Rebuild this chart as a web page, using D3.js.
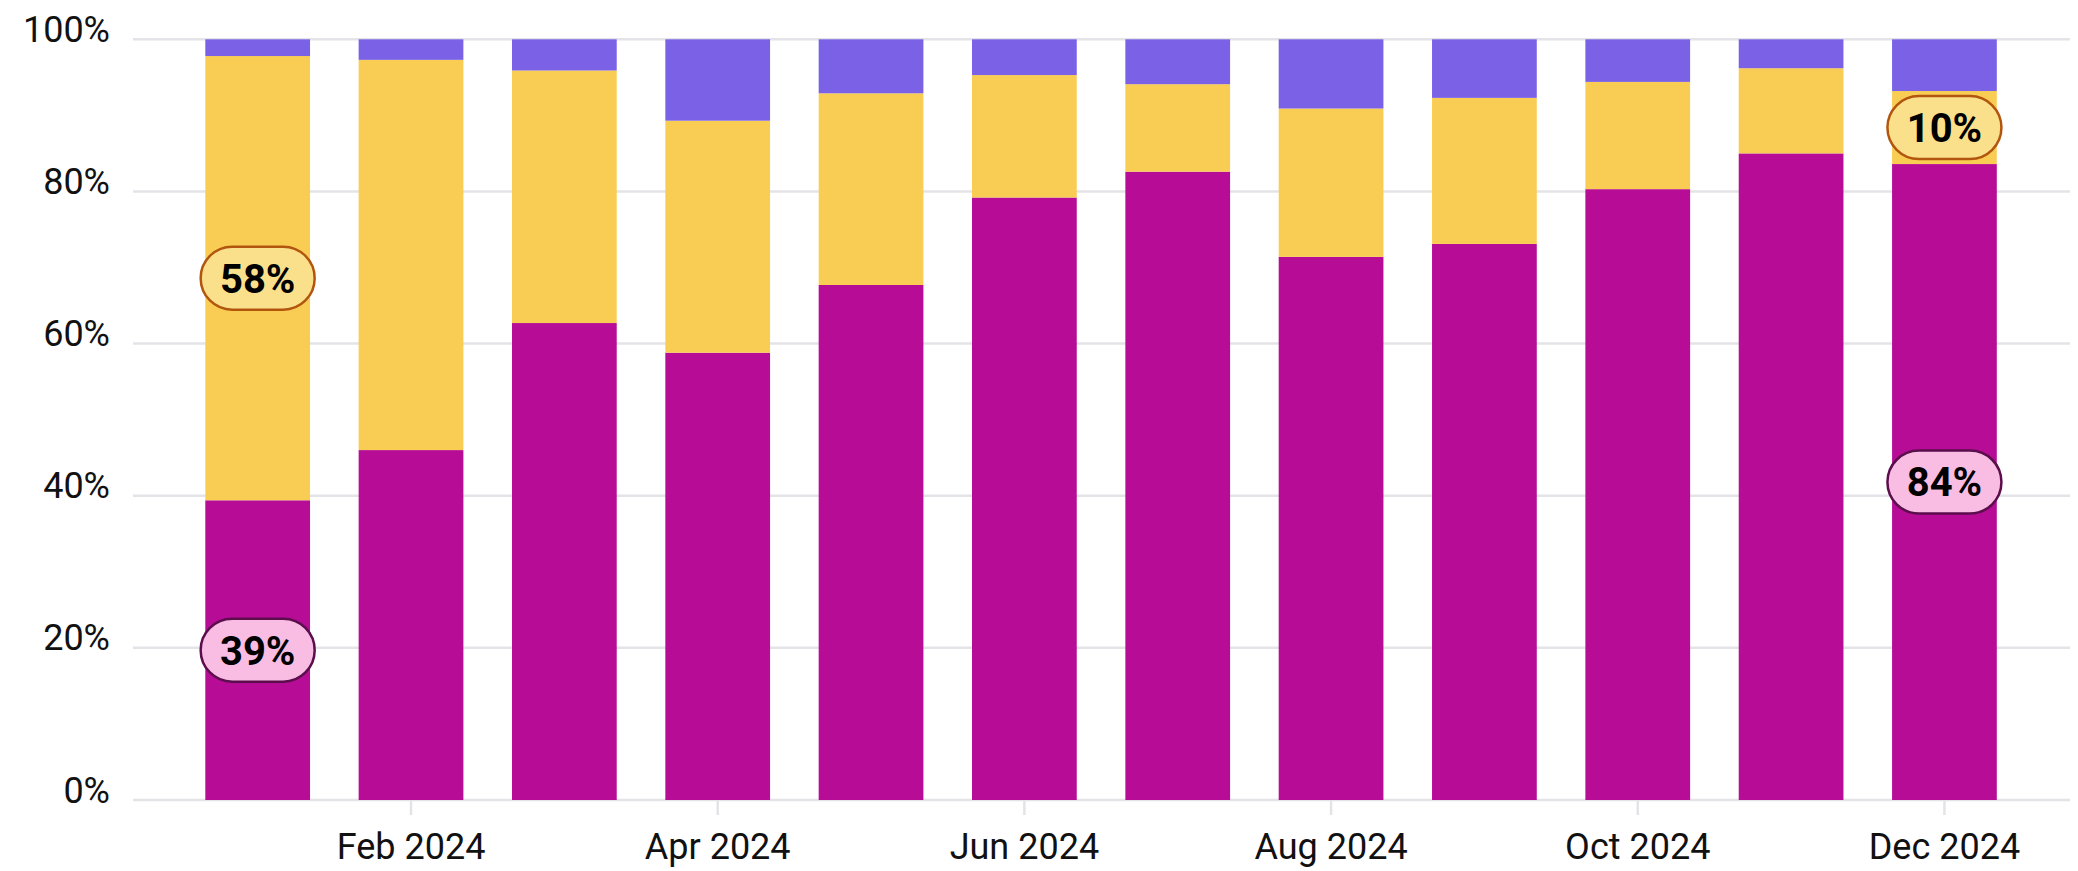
<!DOCTYPE html>
<html>
<head>
<meta charset="utf-8">
<script src="https://cdn.jsdelivr.net/npm/d3@7"></script>
<style>
  html, body { margin: 0; padding: 0; background: #ffffff; }
  svg { display: block; font-family: Roboto, "Noto Sans", sans-serif; }
</style>
</head>
<body>
<svg id="chart" width="2078" height="871"></svg>
<script>
// ---- data ----
const months = ["Jan 2024","Feb 2024","Mar 2024","Apr 2024","May 2024","Jun 2024",
                "Jul 2024","Aug 2024","Sep 2024","Oct 2024","Nov 2024","Dec 2024"];
const seriesA = [39.4, 46.0, 62.7, 58.8, 67.7, 79.2, 82.6, 71.4, 73.1, 80.3, 85.0, 83.6]; // magenta (bottom)
const seriesB = [58.4, 51.3, 33.2, 30.5, 25.2, 16.1, 11.5, 19.5, 19.2, 14.1, 11.2,  9.6]; // yellow (middle)
const seriesC = [ 2.2,  2.7,  4.1, 10.7,  7.1,  4.7,  5.9,  9.1,  7.7,  5.6,  3.8,  6.8]; // purple (top)
const xTickLabels = ["Feb 2024","Apr 2024","Jun 2024","Aug 2024","Oct 2024","Dec 2024"];
const yTicks = [0, 20, 40, 60, 80, 100];
// labelled segments: [month index, series key]
const annotations = [[0, "a"], [0, "b"], [11, "a"], [11, "b"]];

// ---- setup ----
const colors = { a: "#b60c96", b: "#f9cd53", c: "#7b61e6" };
const pill = {
  a: { fill: "#f9bde4", stroke: "#5b0d4c" },
  b: { fill: "#fbe08c", stroke: "#b2560f" }
};

const svg = d3.select("#chart");
const plotLeft = 133, plotRight = 2070, plotTop = 39.3, plotBottom = 800;

const x = d3.scaleBand()
  .domain(months)
  .range([181, 2021.1])
  .paddingInner(0.317)
  .paddingOuter(0.1585);

const y = d3.scaleLinear().domain([0, 100]).range([plotBottom, plotTop]);

const rows = months.map((m, i) => ({ month: m, a: seriesA[i], b: seriesB[i], c: seriesC[i] }));
const stack = d3.stack().keys(["a", "b", "c"]);
const stacked = stack(rows);

// gridlines
svg.append("g")
  .selectAll("line")
  .data(yTicks)
  .join("line")
  .attr("x1", plotLeft).attr("x2", plotRight)
  .attr("y1", d => y(d)).attr("y2", d => y(d))
  .attr("stroke", "#e4e4e8")
  .attr("stroke-width", 2.5);

// y axis labels
const yAxis = d3.axisLeft(y).tickValues(yTicks).tickFormat(d => d + "%").tickSize(0).tickPadding(0);
const gy = svg.append("g").attr("transform", `translate(110,0)`).call(yAxis);
gy.select(".domain").remove();
gy.selectAll("text")
  .attr("font-size", 36)
  .attr("font-family", "Roboto, sans-serif")
  .attr("fill", "#111")
  .attr("dy", "2")
  .attr("text-anchor", "end");

// bars
svg.append("g")
  .selectAll("g")
  .data(stacked)
  .join("g")
  .attr("fill", d => colors[d.key])
  .selectAll("rect")
  .data(d => d)
  .join("rect")
  .attr("x", d => x(d.data.month))
  .attr("width", x.bandwidth())
  .attr("y", d => y(d[1]))
  .attr("height", d => y(d[0]) - y(d[1]));

// x axis
const xAxis = d3.axisBottom(x)
  .tickValues(xTickLabels)
  .tickSize(14)
  .tickPadding(18);
const gx = svg.append("g").attr("transform", `translate(0,${plotBottom + 1})`).call(xAxis);
gx.select(".domain").remove();
gx.selectAll(".tick line").attr("stroke", "#e4e4e8").attr("stroke-width", 2.5);
gx.selectAll("text")
  .attr("font-size", 36)
  .attr("font-family", "Roboto, sans-serif")
  .attr("fill", "#111");

// annotation pills
const keyIndex = { a: 0, b: 1, c: 2 };
const ann = svg.append("g");
annotations.forEach(([i, key]) => {
  const seg = stacked[keyIndex[key]][i];
  const cx = x(months[i]) + x.bandwidth() / 2;
  const cy = (y(seg[0]) + y(seg[1])) / 2;
  const val = key === "a" ? seriesA[i] : seriesB[i];
  const w = 114, h = 63;
  const g = ann.append("g").attr("transform", `translate(${cx},${cy})`);
  g.append("rect")
    .attr("x", -w / 2).attr("y", -h / 2)
    .attr("width", w).attr("height", h)
    .attr("rx", h / 2).attr("ry", h / 2)
    .attr("fill", pill[key].fill)
    .attr("stroke", pill[key].stroke)
    .attr("stroke-width", 2.5);
  g.append("text")
    .attr("text-anchor", "middle")
    .attr("dy", "0.36em")
    .attr("font-size", 40)
    .attr("font-weight", 700)
    .attr("font-family", "Roboto, sans-serif")
    .attr("fill", "#000")
    .text(Math.round(val) + "%");
});
</script>
</body>
</html>
